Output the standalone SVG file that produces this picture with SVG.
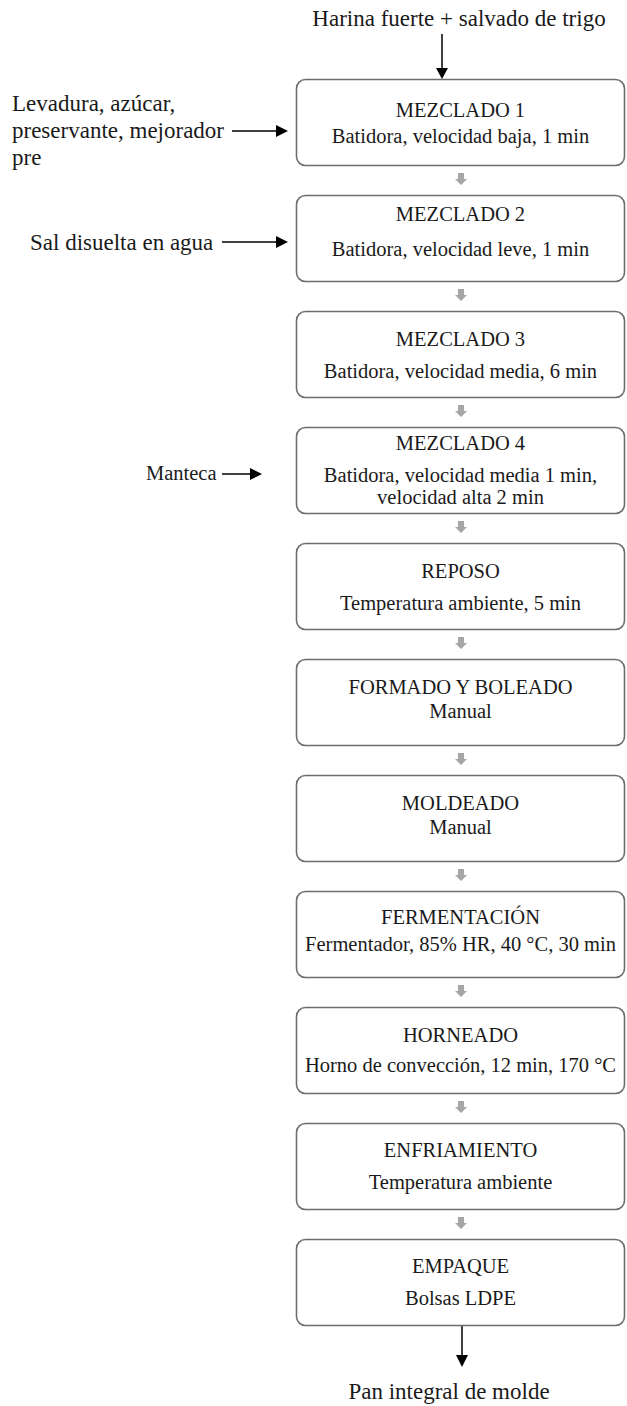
<svg xmlns="http://www.w3.org/2000/svg" width="627" height="1406" viewBox="0 0 627 1406">
<style>
text{font-family:"Liberation Serif","Times New Roman",serif;font-size:20.5px;fill:#1a1a1a}
.c{text-anchor:middle}
.lg{font-size:23px}
.box{fill:#fff;stroke:#6e6e6e;stroke-width:1.6}
.ar{stroke:#000;stroke-width:1.5;fill:none}
.ga{fill:#a6a6a6}
</style>
<defs>
<path id="g" class="ga" d="M-3,0 H3 V6 H6 L0,12 L-6,6 H-3 Z"/>
</defs>
<rect width="627" height="1406" fill="#fff"/>
<g id="connectors">
<line class="ar" x1="442" y1="34" x2="442" y2="70"/>
<path d="M436,68 L448,68 L442,79 Z" fill="#000"/>
<line class="ar" x1="232" y1="131" x2="278" y2="131"/>
<path d="M276,125 L288,131 L276,137 Z" fill="#000"/>
<line class="ar" x1="222" y1="242" x2="278" y2="242"/>
<path d="M276,236 L288,242 L276,248 Z" fill="#000"/>
<line class="ar" x1="222" y1="474" x2="252" y2="474"/>
<path d="M250,468 L262,474 L250,480 Z" fill="#000"/>
<line class="ar" x1="462" y1="1325" x2="462" y2="1356"/>
<path d="M456,1355 L468,1355 L462,1367 Z" fill="#000"/>
<use href="#g" x="461" y="173"/>
<use href="#g" x="461" y="289"/>
<use href="#g" x="461" y="405"/>
<use href="#g" x="461" y="521"/>
<use href="#g" x="461" y="637"/>
<use href="#g" x="461" y="753"/>
<use href="#g" x="461" y="869"/>
<use href="#g" x="461" y="985"/>
<use href="#g" x="461" y="1101"/>
<use href="#g" x="461" y="1217"/>
</g>
<g id="in-top"><text class="c lg" x="459" y="26">Harina fuerte + salvado de trigo</text></g>
<g id="in-levadura">
<text class="lg" x="12" y="111">Levadura, azúcar,</text>
<text class="lg" x="12" y="138">preservante, mejorador</text>
<text class="lg" x="12" y="165">pre</text>
</g>
<g id="in-sal"><text class="lg" x="30" y="250">Sal disuelta en agua</text></g>
<g id="in-manteca"><text x="146" y="480">Manteca</text></g>
<g id="n1"><rect class="box" x="296.5" y="79.5" width="328" height="86" rx="9"/>
<text class="c" x="460.5" y="117">MEZCLADO 1</text><text class="c" x="460.5" y="143">Batidora, velocidad baja, 1 min</text></g>
<g id="n2"><rect class="box" x="296.5" y="195.5" width="328" height="86" rx="9"/>
<text class="c" x="460.5" y="221">MEZCLADO 2</text><text class="c" x="460.5" y="256">Batidora, velocidad leve, 1 min</text></g>
<g id="n3"><rect class="box" x="296.5" y="311.5" width="328" height="86" rx="9"/>
<text class="c" x="460.5" y="346">MEZCLADO 3</text><text class="c" x="460.5" y="378">Batidora, velocidad media, 6 min</text></g>
<g id="n4"><rect class="box" x="296.5" y="427.5" width="328" height="86" rx="9"/>
<text class="c" x="460.5" y="450">MEZCLADO 4</text><text class="c" x="460.5" y="482">Batidora, velocidad media 1 min,</text><text class="c" x="460.5" y="504">velocidad alta 2 min</text></g>
<g id="n5"><rect class="box" x="296.5" y="543.5" width="328" height="86" rx="9"/>
<text class="c" x="460.5" y="578">REPOSO</text><text class="c" x="460.5" y="610">Temperatura ambiente, 5 min</text></g>
<g id="n6"><rect class="box" x="296.5" y="659.5" width="328" height="86" rx="9"/>
<text class="c" x="460.5" y="694">FORMADO Y BOLEADO</text><text class="c" x="460.5" y="718">Manual</text></g>
<g id="n7"><rect class="box" x="296.5" y="775.5" width="328" height="86" rx="9"/>
<text class="c" x="460.5" y="810">MOLDEADO</text><text class="c" x="460.5" y="834">Manual</text></g>
<g id="n8"><rect class="box" x="296.5" y="891.5" width="328" height="86" rx="9"/>
<text class="c" x="460.5" y="924">FERMENTACIÓN</text><text class="c" x="460.5" y="951">Fermentador, 85% HR, 40 °C, 30 min</text></g>
<g id="n9"><rect class="box" x="296.5" y="1007.5" width="328" height="86" rx="9"/>
<text class="c" x="460.5" y="1042">HORNEADO</text><text class="c" x="460.5" y="1072">Horno de convección, 12 min, 170 °C</text></g>
<g id="n10"><rect class="box" x="296.5" y="1123.5" width="328" height="86" rx="9"/>
<text class="c" x="460.5" y="1157">ENFRIAMIENTO</text><text class="c" x="460.5" y="1189">Temperatura ambiente</text></g>
<g id="n11"><rect class="box" x="296.5" y="1239.5" width="328" height="86" rx="9"/>
<text class="c" x="460.5" y="1273">EMPAQUE</text><text class="c" x="460.5" y="1305">Bolsas LDPE</text></g>
<g id="out"><text class="c lg" x="449" y="1399">Pan integral de molde</text></g>
</svg>
